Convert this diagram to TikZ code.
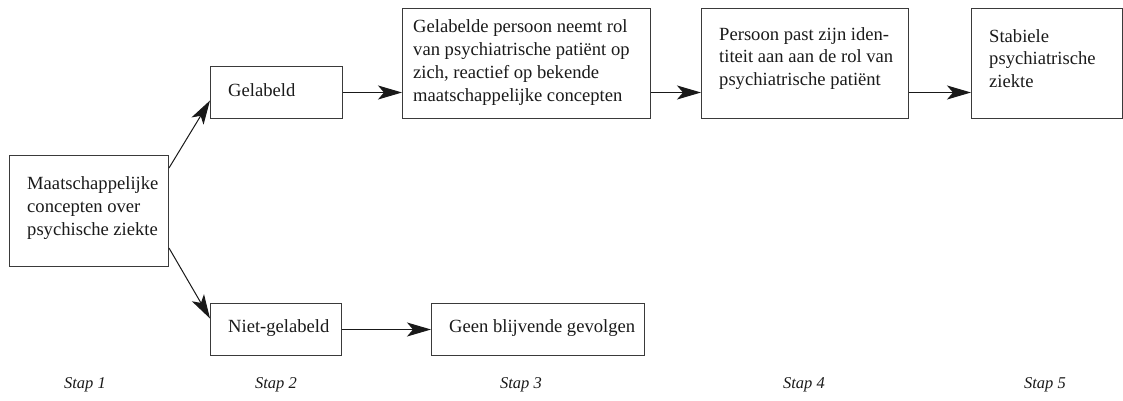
\documentclass[tikz,border=0pt]{standalone}
\usepackage{fontspec}
\setmainfont{Liberation Serif}
\usetikzlibrary{arrows.meta,calc}
\definecolor{linec}{HTML}{3A3A3A}
\definecolor{textc}{HTML}{1A1A1A}
\tikzset{
  boxnode/.style={draw=linec, line width=1pt, inner sep=0pt, anchor=north west},
  txtnode/.style={anchor=west, align=left, inner sep=0pt, text=textc,
    font=\fontsize{18.6}{22.8}\selectfont},
  stapnode/.style={text=textc, inner sep=0pt, font=\fontsize{16.5}{20}\selectfont\itshape},
  flow/.style={draw=black!90, line width=1pt,
    -{Stealth[length=24pt, width=14pt, inset=6pt]}}
}
\begin{document}
\begin{tikzpicture}[x=1pt,y=-1pt]
\useasboundingbox (0,0) rectangle (1123,401);
% boxes
\node[boxnode, minimum width=159pt, minimum height=111pt] (a)  at (9,155) {};
\node[boxnode, minimum width=132pt, minimum height=52pt]  (g)  at (210,66) {};
\node[boxnode, minimum width=248pt, minimum height=110pt] (b3) at (402,8) {};
\node[boxnode, minimum width=207pt, minimum height=110pt] (b4) at (701,8) {};
\node[boxnode, minimum width=151pt, minimum height=110pt] (b5) at (971,8) {};
\node[boxnode, minimum width=131pt, minimum height=52pt]  (n)  at (210,303) {};
\node[boxnode, minimum width=213pt, minimum height=52pt]  (ge) at (431,303) {};
% texts
\node[txtnode] (ta)  at ($(a.west)+(18,-3)$) {Maatschappelijke\\concepten over\\psychische ziekte};
\node[txtnode] (tg)  at ($(g.west)+(18,-2)$) {Gelabeld};
\node[txtnode] (tb3) at ($(b3.west)+(11,-1)$) {Gelabelde persoon neemt rol\\van psychiatrische patiënt op\\zich, reactief op bekende\\maatschappelijke concepten};
\node[txtnode] (tb4) at ($(b4.west)+(18,-5)$) {Persoon past zijn iden-\\titeit aan aan de rol van\\psychiatrische patiënt};
\node[txtnode] (tb5) at ($(b5.west)+(18,-5)$) {Stabiele\\psychiatrische\\ziekte};
\node[txtnode] (tn)  at ($(n.west)+(18,-1)$) {Niet-gelabeld};
\node[txtnode] (tge) at ($(ge.west)+(18,-1)$) {Geen blijvende gevolgen};
% connectors
\draw[flow] ([yshift=-13pt]a.north east) -- ([yshift=-8pt]g.west);
\draw[flow] ([yshift=19pt]a.south east) -- ([yshift=11pt]n.west);
\draw[flow] (g.east) -- (g.east -| b3.west);
\draw[flow] (g.east -| b3.east) -- (g.east -| b4.west);
\draw[flow] (g.east -| b4.east) -- (g.east -| b5.west);
\draw[flow] (n.east) -- (ge.west);
% step labels
\node[stapnode] (s1) at (85,385) {Stap 1};
\node[stapnode] (s2) at (276,385) {Stap 2};
\node[stapnode] (s3) at (521,385) {Stap 3};
\node[stapnode] (s4) at (804,385) {Stap 4};
\node[stapnode] (s5) at (1045,385) {Stap 5};
\end{tikzpicture}
\end{document}
